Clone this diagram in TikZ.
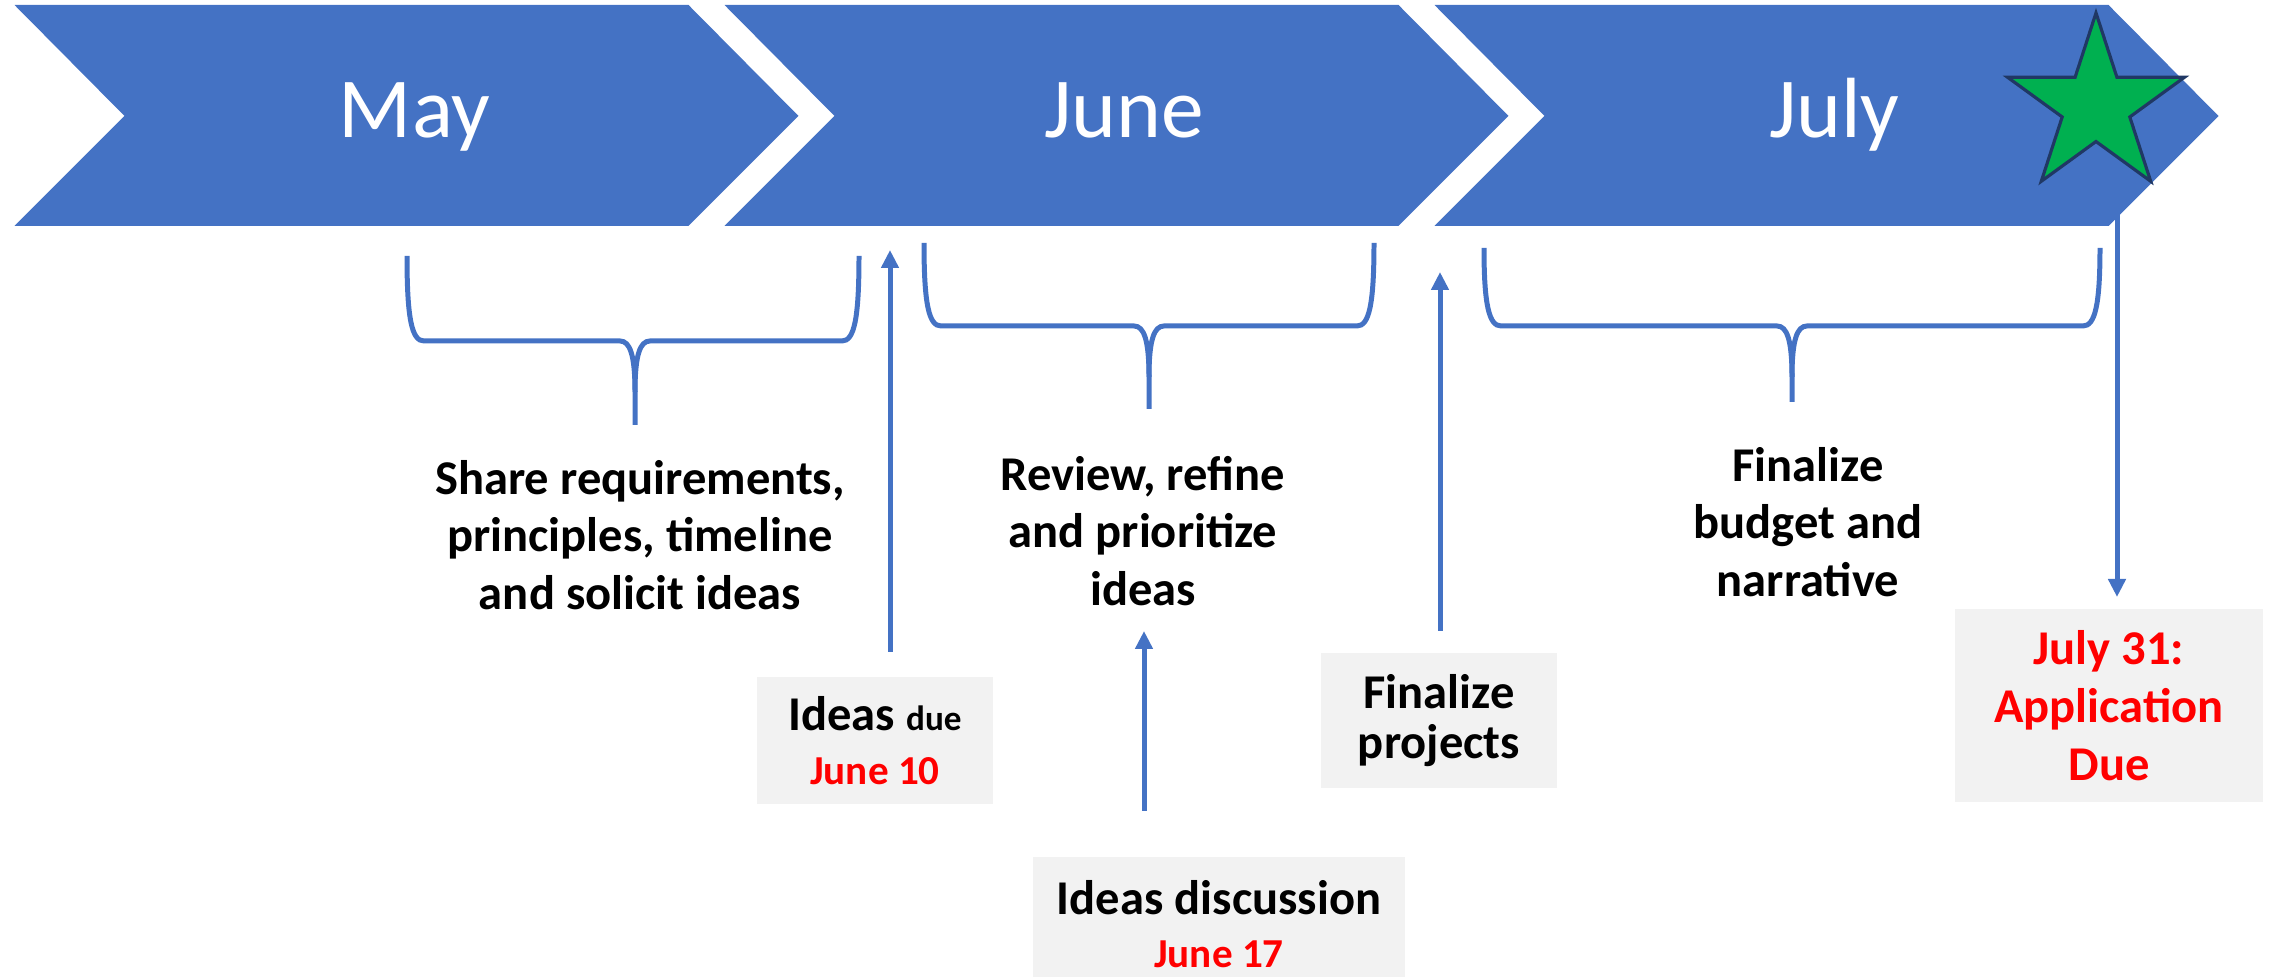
\documentclass[tikz,border=0pt]{standalone}
\usepackage{fontspec}
\setmainfont{Carlito}
\usetikzlibrary{arrows.meta,shapes.geometric}

\definecolor{tlblue}{HTML}{4472C4}
\definecolor{boxgray}{HTML}{F2F2F2}
\definecolor{duered}{HTML}{FF0000}
\definecolor{stargreen}{HTML}{00B050}
\definecolor{starline}{HTML}{203864}

\tikzset{
  month/.style={text=white, anchor=base, font=\fontsize{24.3}{29}\selectfont},
  note/.style={align=center, font=\bfseries\fontsize{13.8}{16.4}\selectfont},
  datebox/.style={note, fill=boxgray, inner sep=0pt},
  tlbrace/.style={draw=tlblue, line width=1.42pt},
  tlarrow/.style={draw=tlblue, line width=1.42pt, -{Triangle[length=0.18cm,width=0.17cm]}},
}

\begin{document}
\begin{tikzpicture}[x=0.01cm, y=-0.01cm]
\useasboundingbox (0,0) rectangle (2272,977);

% month chevrons
\foreach \x/\m/\n in {14.5/May/may, 724.5/June/june, 1434.5/July/july} {
  \fill[tlblue] (\x,5) -- ++(674,0) -- ++(110,111) -- ++(-110,110) -- ++(-674,0) -- ++(110,-110) -- cycle;
  \node[month] (\n) at (\x+400,138) {\m};
}
\node[star, star points=5, star point ratio=2.618, minimum size=1.86cm, inner sep=0pt,
  fill=stargreen, draw=starline, line width=0.9pt] (goal) at (2096,106) {};

% braces under the months
\foreach \l/\c/\r/\t/\m/\b in {407/635/859/256/341/425, 924/1149/1374/243/326/409, 1484/1792/2100/248/326/402} {
  \draw[tlbrace] (\l,\t) .. controls (\l,\m-21) and (\l+5,\m) .. (\l+17,\m) -- (\c-15,\m)
    .. controls (\c-5,\m) and (\c,\m+14) .. (\c,\m+51) -- (\c,\b);
  \draw[tlbrace] (\r,\t) .. controls (\r,\m-21) and (\r-5,\m) .. (\r-17,\m) -- (\c+15,\m)
    .. controls (\c+5,\m) and (\c,\m+14) .. (\c,\m+51);
}

% phase texts
\node[note] (share) at (640,535) {Share requirements,\\principles, timeline\\and solicit ideas};
\node[note] (review) at (1143,531) {Review, refine\\and prioritize\\ideas};
\node[note] (budget) at (1808,522) {Finalize\\budget and\\narrative};

% milestones
\node[datebox, font=\bfseries\fontsize{13.8}{15.4}\selectfont, minimum width=2.36cm, minimum height=1.27cm] (due) at (875,740.5)
  {Ideas {\fontsize{10}{12}\selectfont due}\\{\color{duered}\fontsize{11.7}{14}\selectfont June 10}};
\node[datebox, font=\bfseries\fontsize{13.8}{15.1}\selectfont, minimum width=3.72cm, minimum height=1.34cm] (talk) at (1219,924)
  {Ideas discussion\\{\color{duered}\fontsize{11.7}{14}\selectfont June 17}};
\node[datebox, font=\bfseries\fontsize{13.8}{14}\selectfont, minimum width=2.36cm, minimum height=1.35cm] (proj) at (1439,720.5)
  {Finalize\\projects};
\node[datebox, text=duered, minimum width=3.08cm, minimum height=1.93cm] (apply) at (2109,705.5)
  {July 31:\\Application\\Due};

\coordinate (dueTail) at (890,652);
\coordinate (dueHead) at (890,250);
\coordinate (talkTail) at (1144,811);
\coordinate (talkHead) at (1144,631);
\coordinate (projTail) at (1440,631);
\coordinate (projHead) at (1440,272);
\coordinate (applyTail) at (2117,213);
\coordinate (applyHead) at (2117,597);

\draw[tlarrow] (dueTail) -- (dueHead);
\draw[tlarrow] (talkTail) -- (talkHead);
\draw[tlarrow] (projTail) -- (projHead);
\draw[tlarrow] (applyTail) -- (applyHead);
\end{tikzpicture}
\end{document}
